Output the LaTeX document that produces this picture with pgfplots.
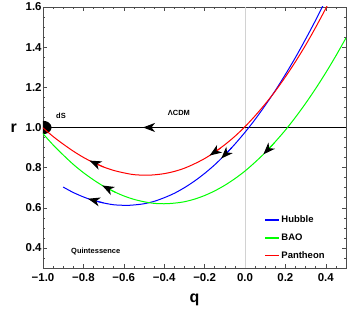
\documentclass[border=0pt]{standalone}
\usepackage{fontspec}
\setmainfont{Liberation Sans}
\usepackage{pgfplots}
\pgfplotsset{compat=1.18}
\usetikzlibrary{arrows.meta}
\definecolor{mblue}{rgb}{0,0,1}
\definecolor{mgreen}{rgb}{0,1,0}
\definecolor{mred}{rgb}{1,0,0}
\definecolor{framec}{gray}{0.3}
\tikzset{marr/.style={line width=1bp,-{Stealth[length=12bp,width=9bp,inset=3.5bp,color=black]}}}
\begin{document}
\begin{tikzpicture}
\begin{axis}[name=ax, scale only axis, width=303bp, height=261bp,
  xmin=-1, xmax=0.5, ymin=0.3, ymax=1.6,
  xtick={-1,-0.8,-0.6,-0.4,-0.2,0,0.2,0.4},
  xticklabels={−1.0,−0.8,−0.6,−0.4,−0.2,0.0,0.2,0.4},
  ytick={0.4,0.6,0.8,1.0,1.2,1.4,1.6},
  yticklabels={0.4,0.6,0.8,1.0,1.2,1.4,1.6},
  minor xtick={-0.95,-0.9,-0.85,-0.75,-0.7,-0.65,-0.55,-0.5,-0.45,-0.35,-0.3,-0.25,-0.15,-0.1,-0.05,0.05,0.1,0.15,0.25,0.3,0.35,0.45},
  minor ytick={0.3,0.35,0.45,0.5,0.55,0.65,0.7,0.75,0.85,0.9,0.95,1.05,1.1,1.15,1.25,1.3,1.35,1.45,1.5,1.55},
  tick align=inside, major tick length=4bp, minor tick length=2.5bp,
  tick style={framec, line width=0.5bp},
  axis line style={framec, line width=0.7bp},
  ticklabel style={font=\fontsize{11.5}{13}\selectfont\bfseries},
  yticklabel style={inner xsep=1.2bp},
  xticklabel style={yshift=-2bp},
  xlabel={q}, ylabel={r},
  xlabel style={font=\fontsize{16}{16}\selectfont\bfseries, at={(axis description cs:0.5,-0.133)}, anchor=base},
  ylabel style={font=\fontsize{16}{16}\selectfont\bfseries, rotate=-90, at={(axis description cs:-0.097,0.521)}, anchor=base},
  legend style={draw=none, fill=none, at={(axis description cs:0.72,0.215)}, anchor=north west,
    font=\fontsize{9.5}{9.5}\selectfont\bfseries, row sep=5.5bp},
  legend cell align=left,
  legend image post style={xscale=0.8, line width=1.5bp},
]
\addplot[gray!35, line width=0.6bp, forget plot] coordinates {(0,0.3) (0,1.6)};
\addplot[black, line width=1bp, forget plot] coordinates {(-1,1) (0.5,1)};
\addplot[black, marr, forget plot] coordinates {(-0.43,1) (-0.505,1)};
% dS point (disc clipped by the frame)
\addplot[fill=black, draw=none, forget plot] coordinates {
(-1.01,0.967) (-1.000,0.967) (-0.9891,0.9681) (-0.979,0.9714) (-0.9703,0.9767) (-0.9636,0.9835)
(-0.9594,0.9915) (-0.958,1.0) (-0.9594,1.0085) (-0.9636,1.0165) (-0.9703,1.0233)
(-0.979,1.0286) (-0.9891,1.0319) (-1.0,1.033) (-1.01,1.033)} -- cycle;
% Hubble
\addplot[color=mblue, line width=1bp, smooth] coordinates {
(-0.90,0.703) (-0.85,0.676) (-0.80,0.654) (-0.75,0.636) (-0.70,0.624) (-0.65,0.615)
(-0.59,0.612) (-0.55,0.614) (-0.50,0.620) (-0.45,0.632) (-0.40,0.650) (-0.35,0.672)
(-0.30,0.700) (-0.25,0.733) (-0.20,0.771) (-0.15,0.814) (-0.10,0.863) (-0.05,0.917)
(0.00,0.976) (0.05,1.040) (0.10,1.110) (0.15,1.184) (0.20,1.264) (0.25,1.349)
(0.30,1.440) (0.35,1.535) (0.40,1.636) (0.45,1.742)};
\addlegendentry{Hubble}
% BAO
\addplot[color=mgreen, line width=1bp, smooth] coordinates {
(-1.00,0.969) (-0.95,0.913) (-0.90,0.863) (-0.85,0.816) (-0.80,0.775) (-0.75,0.739)
(-0.70,0.707) (-0.65,0.681) (-0.60,0.659) (-0.55,0.642) (-0.50,0.630) (-0.45,0.622)
(-0.40,0.620) (-0.35,0.623) (-0.30,0.630) (-0.25,0.643) (-0.20,0.661) (-0.15,0.684)
(-0.10,0.712) (-0.05,0.745) (0.00,0.783) (0.05,0.827) (0.10,0.875) (0.15,0.929)
(0.20,0.987) (0.25,1.051) (0.30,1.120) (0.35,1.194) (0.40,1.273) (0.45,1.357) (0.50,1.446)};
\addlegendentry{BAO}
% Pantheon
\addplot[color=red, draw=red, line width=1bp, smooth] coordinates {
(-1.00,0.998) (-0.95,0.955) (-0.90,0.917) (-0.85,0.882) (-0.80,0.851) (-0.75,0.825)
(-0.70,0.803) (-0.65,0.786) (-0.60,0.774) (-0.55,0.765) (-0.49,0.762) (-0.45,0.764)
(-0.40,0.770) (-0.35,0.781) (-0.30,0.797) (-0.25,0.819) (-0.20,0.845) (-0.15,0.877)
(-0.10,0.914) (-0.05,0.956) (0.00,1.004) (0.05,1.058) (0.10,1.117) (0.15,1.181)
(0.20,1.252) (0.25,1.328) (0.30,1.410) (0.35,1.499) (0.40,1.593) (0.45,1.693)};
\addlegendentry{Pantheon}
% arrows on the trajectories
\addplot[mblue, marr, forget plot] coordinates {(-0.065,0.900) (-0.118,0.845)};
\addplot[mblue, marr, forget plot] coordinates {(-0.70,0.624) (-0.777,0.645)};
\addplot[mgreen, marr, forget plot] coordinates {(0.145,0.923) (0.091,0.866)};
\addplot[mgreen, marr, forget plot] coordinates {(-0.64,0.676) (-0.707,0.711)};
\addplot[mred, marr, forget plot] coordinates {(-0.70,0.803) (-0.770,0.835)};
\addplot[mred, marr, forget plot] coordinates {(-0.12,0.898) (-0.175,0.860)};
\node[font=\fontsize{7.5}{8}\selectfont\bfseries] at (axis cs:-0.911,1.059) {dS};
\node[font=\fontsize{7.5}{8}\selectfont\bfseries] at (axis cs:-0.327,1.071) {ΛCDM};
\node[font=\fontsize{7.5}{8}\selectfont\bfseries] at (axis cs:-0.739,0.384) {Quintessence};
\end{axis}
\pgfresetboundingbox
\path[use as bounding box] ([xshift=-43bp,yshift=-43bp]ax.south west) rectangle ([xshift=1bp,yshift=7bp]ax.north east);
\end{tikzpicture}
\end{document}
